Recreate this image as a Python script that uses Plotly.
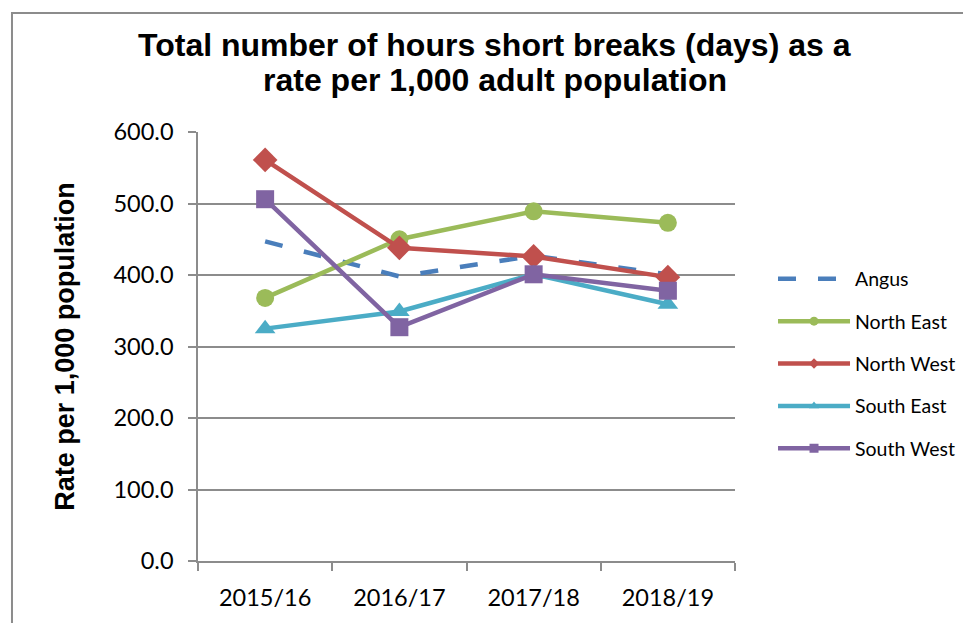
import plotly.graph_objects as go

years = ["2015/16", "2016/17", "2017/18", "2018/19"]
angus = [447, 398, 427, 401]
north_east = [368, 450, 489, 473]
north_west = [561, 438, 426, 397]
south_east = [325, 349, 401, 359]
south_west = [506, 327, 401, 378]
y_ticks = [0, 100, 200, 300, 400, 500, 600]
title_lines = ["Total number of hours short breaks (days) as a",
               "rate per 1,000 adult population"]

series = [
    ("Angus", angus, "#4a7ebb", None, 0, 0),
    ("North East", north_east, "#9bbb59", "circle", 18, 9),
    ("North West", north_west, "#c0504d", "diamond", 19, 8),
    ("South East", south_east, "#4bacc6", "triangle-up", 18, 9),
    ("South West", south_west, "#8064a2", "square", 18, 9),
]

fig = go.Figure()
for i, (name, vals, color, symbol, msize, lsize) in enumerate(series):
    line = dict(color=color, width=4.5)
    if symbol is None:
        line["dash"] = "18px,22px"
        fig.add_trace(go.Scatter(x=years, y=vals, name=name, mode="lines",
                                 line=line, showlegend=False))
        fig.add_trace(go.Scatter(x=[years[0]], y=[None], name=name, mode="lines",
                                 line=line, legendgroup=str(i)))
    else:
        fig.add_trace(go.Scatter(x=years, y=vals, name=name, mode="lines+markers",
                                 line=line, showlegend=False,
                                 marker=dict(symbol=symbol, size=msize, color=color)))
        fig.add_trace(go.Scatter(x=[years[0]], y=[None], name=name, mode="lines+markers",
                                 line=line, legendgroup=str(i),
                                 marker=dict(symbol=symbol, size=lsize, color=color)))

grid = "#8c8c8c"
fig.update_layout(
    width=971, height=623,
    margin=dict(l=190, r=244, t=124, b=70),
    paper_bgcolor="white", plot_bgcolor="white",
    showlegend=True,
    legend=dict(x=1.0708, xanchor="left", y=0.46, yanchor="middle",
                font=dict(family="Lato", size=19.5, color="black"),
                traceorder="grouped", tracegroupgap=14, itemwidth=72,
                bgcolor="rgba(0,0,0,0)"),
    font=dict(family="Lato", color="black"),
)

for text, ypos in zip(title_lines, [1.2028, 1.1212]):
    fig.add_annotation(text=text, xref="paper", yref="paper", x=0.553, y=ypos,
                       xanchor="center", yanchor="middle", showarrow=False,
                       font=dict(family="Liberation Sans, Arial", size=32, color="black", weight="bold"))

fig.update_xaxes(type="category", range=[-0.5, 3.5], tickson="boundaries",
                 ticks="outside", ticklen=8, tickcolor=grid, tickwidth=1.5,
                 showline=True, linecolor=grid, linewidth=1.5, showgrid=False,
                 tickfont=dict(family="Lato", size=23.5, color="black"), ticklabelstandoff=15)
fig.update_yaxes(range=[0, 600], tickvals=y_ticks, tickformat=".1f",
                 ticks="outside", ticklen=8, tickcolor=grid, tickwidth=1.5,
                 showline=True, linecolor=grid, linewidth=1.5,
                 showgrid=True, gridcolor=grid, gridwidth=1.5, zeroline=False,
                 tickfont=dict(family="Lato", size=23.5, color="black"), ticklabelstandoff=10,
                 title=dict(text="Rate per 1,000 population", standoff=31,
                            font=dict(family="Liberation Sans, Arial", size=27, color="black", weight="bold")))

# outer chart frame
fig.add_shape(type="rect", xref="paper", yref="paper",
              x0=-0.3464, x1=1.6, y0=-0.3, y1=1.2774,
              line=dict(color="#8c8c8c", width=2), layer="below")

fig.write_html("out.html")
